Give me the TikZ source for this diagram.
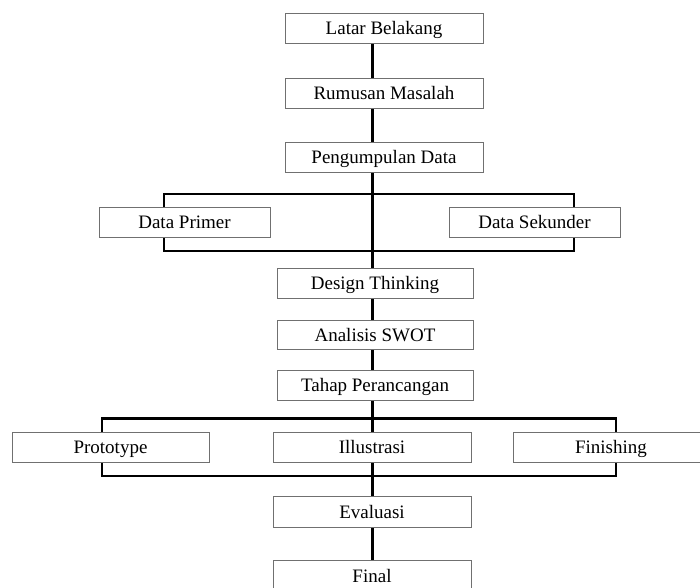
\documentclass[tikz,border=0pt]{standalone}
\usepackage{fontspec}
\setmainfont{Liberation Serif}
\usetikzlibrary{backgrounds}
\definecolor{boxline}{HTML}{707070}
\tikzset{
  box/.style={draw=boxline, line width=1pt, fill=white, rectangle, inner sep=0pt,
    font=\fontsize{19}{22}\selectfont, text height=15pt, text depth=2pt},
  trunk/.style={line width=3.2pt, black},
  bus/.style={line width=2.8pt, black, line cap=rect},
}
\begin{document}
\begin{tikzpicture}[x=1pt,y=-1pt]
\useasboundingbox (0,0) rectangle (700,587);
\clip (0,0) rectangle (700,587);
\coordinate (T) at (372.5,0);
% nodes
\node[box, minimum width=198, minimum height=30] (lb) at (384,28) {Latar Belakang};
\node[box, minimum width=198, minimum height=30] (rm) at (384,93) {Rumusan Masalah};
\node[box, minimum width=198, minimum height=30] (pd) at (384,157) {Pengumpulan Data};
\node[box, minimum width=171, minimum height=30] (dp) at (184.5,222) {Data Primer};
\node[box, minimum width=171, minimum height=30] (ds) at (534.5,222) {Data Sekunder};
\node[box, minimum width=196, minimum height=30] (dt) at (375,283) {Design Thinking};
\node[box, minimum width=196, minimum height=29] (as) at (375,334.5) {Analisis SWOT};
\node[box, minimum width=196, minimum height=30] (tp) at (375,385) {Tahap Perancangan};
\node[box, minimum width=197, minimum height=30] (pr) at (110.5,447) {Prototype};
\node[box, minimum width=198, minimum height=30] (il) at (372,447) {Illustrasi};
\node[box, minimum width=196, minimum height=30] (fi) at (611,447) {Finishing};
\node[box, minimum width=198, minimum height=31] (ev) at (372,511.5) {Evaluasi};
\node[box, minimum width=198, minimum height=31] (fn) at (372,575.5) {Final};
% bus coordinates
\coordinate (b1tl) at (164,194);
\coordinate (b1tr) at (574,194);
\coordinate (b1bl) at (164,251);
\coordinate (b1br) at (574,251);
\coordinate (b2tl) at (102,418.5);
\coordinate (b2tr) at (616,418.5);
\coordinate (b2bl) at (102,476);
\coordinate (b2br) at (616,476);
\begin{scope}[on background layer]
  \draw[trunk] (lb.south -| T) -- (fn.north -| T);
  \draw[bus] (dp.north -| b1tl) -- (b1tl) -- (b1tr) -- (ds.north -| b1tr);
  \draw[bus] (dp.south -| b1bl) -- (b1bl) -- (b1br) -- (ds.south -| b1br);
  \draw[bus] (pr.north -| b2tl) -- (b2tl) -- (b2tr) -- (fi.north -| b2tr);
  \draw[bus] (pr.south -| b2bl) -- (b2bl) -- (b2br) -- (fi.south -| b2br);
\end{scope}
\end{tikzpicture}
\end{document}
